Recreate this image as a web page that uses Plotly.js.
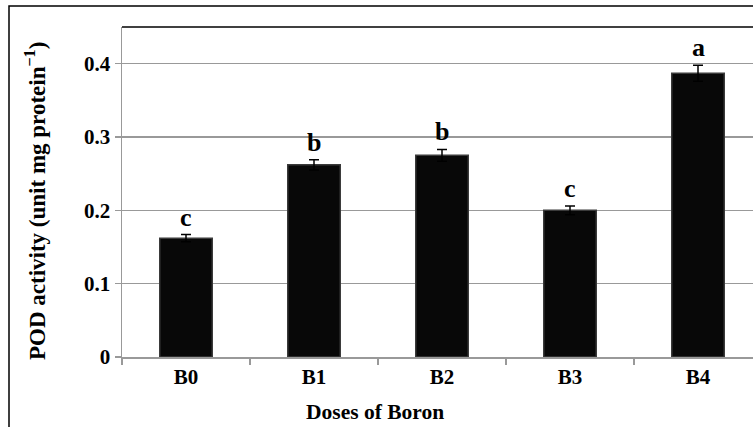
<!DOCTYPE html>
<html>
<head>
<meta charset="utf-8">
<script src="https://cdn.plot.ly/plotly-3.0.1.min.js"></script>
<style>
html,body{margin:0;padding:0;overflow:hidden;background:#fff;}
#chart{width:790px;height:440px;}
</style>
</head>
<body>
<div id="chart"></div>
<script>
var categories = ['B0', 'B1', 'B2', 'B3', 'B4'];
var podActivity = [0.162, 0.262, 0.275, 0.200, 0.387];
var errors = [0.005, 0.007, 0.008, 0.006, 0.011];
var letters = ['c', 'b', 'b', 'c', 'a'];
var yTickVals = [0, 0.1, 0.2, 0.3, 0.4];
var yTickText = ['0', '0.1', '0.2', '0.3', '0.4'];

var FONT = 'Liberation Serif, Times New Roman, serif';

var trace = {
  type: 'bar',
  x: categories,
  y: podActivity,
  width: 0.41,
  marker: { color: '#080808', line: { color: '#3a3a3a', width: 1.5 } },
  error_y: { type: 'data', array: errors, visible: true, color: '#000', thickness: 1.5, width: 5 },
  hoverinfo: 'none'
};

var annotations = categories.map(function (c, i) {
  return {
    x: c, y: podActivity[i] + errors[i], xref: 'x', yref: 'y',
    text: '<b>' + letters[i] + '</b>', showarrow: false,
    yanchor: 'bottom', yshift: 1,
    font: { family: FONT, size: 26, color: '#000' }
  };
});
annotations.push({
  xref: 'paper', yref: 'paper', x: (375 - 122) / 640, y: -(412 - 357) / 330,
  xanchor: 'center', yanchor: 'middle', showarrow: false,
  text: '<b>Doses of Boron</b>',
  font: { family: FONT, size: 21.5, color: '#000' }
});
annotations.push({
  xref: 'paper', yref: 'paper', x: (35 - 122) / 640, y: (357 - 201) / 330,
  xanchor: 'center', yanchor: 'middle', showarrow: false, textangle: -90,
  text: '<b>POD activity (unit mg protein<sup>−1</sup>)</b>',
  font: { family: FONT, size: 23, color: '#000' }
});

var layout = {
  width: 790, height: 440,
  margin: { l: 122, r: 28, t: 27, b: 83 },
  paper_bgcolor: '#fff', plot_bgcolor: '#fff',
  showlegend: false,
  xaxis: {
    type: 'category',
    tickson: 'boundaries',
    ticks: 'outside', ticklen: 6, tickcolor: '#999', tickwidth: 1.5,
    showline: true, linecolor: '#999', linewidth: 1.5,
    showgrid: false, zeroline: false,
    tickfont: { family: FONT, size: 21, color: '#000', weight: 'bold' },
    fixedrange: true
  },
  yaxis: {
    range: [0, 0.45],
    tickvals: yTickVals, ticktext: yTickText,
    ticks: 'outside', ticklen: 6, tickcolor: '#999', tickwidth: 1.5,
    showline: true, linecolor: '#999', linewidth: 1.5,
    showgrid: true, gridcolor: '#999', gridwidth: 1.5,
    zeroline: false,
    tickfont: { family: FONT, size: 21, color: '#000', weight: 'bold' },
    fixedrange: true
  },
  annotations: annotations,
  shapes: [
    { type: 'line', xref: 'paper', yref: 'paper', x0: 0, x1: 1.1, y0: 1, y1: 1,
      line: { color: '#000', width: 1.5 } },
    { type: 'rect', xref: 'paper', yref: 'paper',
      x0: (9 - 122) / 640, x1: (785 - 122) / 640,
      y0: -(438 - 357) / 330, y1: 1 + (27 - 6) / 330,
      line: { color: '#000', width: 1.5 }, fillcolor: 'rgba(0,0,0,0)', layer: 'below' }
  ]
};

Plotly.newPlot('chart', [trace], layout, { displayModeBar: false, staticPlot: true });
</script>
</body>
</html>
